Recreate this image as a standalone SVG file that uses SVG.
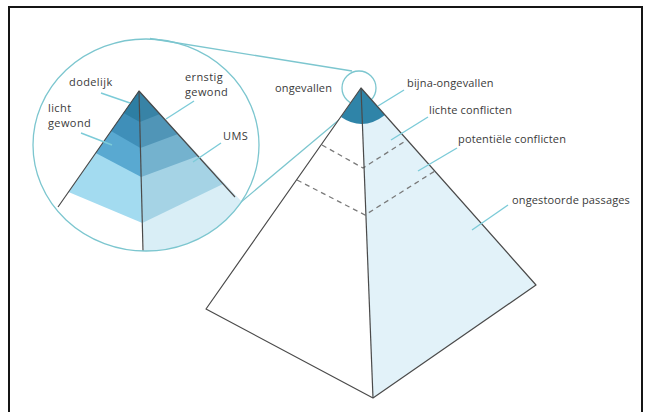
<svg xmlns="http://www.w3.org/2000/svg" width="648" height="412" viewBox="0 0 648 412">
  <style>
    .lbl { font-family: "Open Sans", "Liberation Sans", sans-serif; font-size: 11px; letter-spacing: 0.15px; fill: #3a3a3a; }
    .lbl-s { font-family: "Open Sans", "Liberation Sans", sans-serif; font-size: 11px; letter-spacing: 0.4px; fill: #3a3a3a; }
    .leader { stroke: #7ccbd8; stroke-width: 1.4; fill: none; }
    .loupe { stroke: #7cc6cf; stroke-width: 1.3; fill: none; }
    .edge { stroke: #4a4a4a; stroke-width: 1.2; fill: none; stroke-linejoin: round; }
    .dash { stroke: #7a7a7a; stroke-width: 1.3; fill: none; stroke-dasharray: 5 4; }
  </style>
  <defs>
    <clipPath id="loupeClip">
      <ellipse cx="146" cy="145" rx="113" ry="106"/>
    </clipPath>
  </defs>

  <rect x="0" y="0" width="648" height="412" fill="#ffffff"/>
  <!-- frame -->
  <path d="M9,420 V7 H642 V420" fill="none" stroke="#151515" stroke-width="2"/>

  <!-- magnifier outline and connecting lines -->
  <g id="magnifier">
    <line class="loupe" x1="150" y1="38.5" x2="352" y2="71"/>
    <line class="loupe" x1="203" y1="234" x2="340" y2="119"/>
    <circle class="loupe" cx="359" cy="88" r="17"/>
  </g>

  <!-- main pyramid -->
  <g id="main-pyramid">
    <polygon points="361,88 206,309 373,398" fill="#ffffff"/>
    <polygon points="361,88 373,398 536,285" fill="#e2f2f9"/>
    <path d="M361,88 L341,117 Q363,132 385,115 Z" fill="#2f84a8"/>
    <polyline class="dash" points="322,145 363,168 407,140"/>
    <polyline class="dash" points="297,180 365,215 435,171"/>
    <polygon class="edge" points="361,88 206,309 373,398 536,285"/>
    <line class="edge" x1="361" y1="88" x2="373" y2="398"/>
  </g>

  <!-- enlarged top of the pyramid -->
  <g id="detail-pyramid">
    <g clip-path="url(#loupeClip)">
      <!-- left face, bottom band first -->
      <polygon points="139,91 30,246 144,262" fill="#ffffff"/>
      <polygon points="139,91 68.5,192 142.3,223" fill="#a3dbf0"/>
      <polygon points="139,91 95.7,153 141.2,177" fill="#59a9d1"/>
      <polygon points="139,91 111,131 140.4,148" fill="#3f8fb9"/>
      <polygon points="139,91 123.6,113 139.8,122" fill="#2d7ea3"/>
      <!-- right face -->
      <polygon points="139,91 255,216 144,262" fill="#d9eef6"/>
      <polygon points="139,91 223,184 142.3,223" fill="#a5d3e5"/>
      <polygon points="139,91 198,156 141.2,177" fill="#74b2ce"/>
      <polygon points="139,91 178,134 140.4,148" fill="#5095b7"/>
      <polygon points="139,91 160,114 139.8,122" fill="#3883a6"/>
    </g>
    <polyline class="edge" points="58,207 139,91 235,197"/>
    <line class="edge" x1="139" y1="91" x2="143" y2="251"/>
    <ellipse class="loupe" cx="146" cy="145" rx="113" ry="106"/>
  </g>

  <!-- labels of the enlarged part -->
  <g id="label-dodelijk">
    <line class="leader" x1="101" y1="93" x2="130" y2="103"/>
    <text class="lbl-s" x="69" y="86">dodelijk</text>
  </g>
  <g id="label-ernstig-gewond">
    <line class="leader" x1="194" y1="101" x2="166" y2="119"/>
    <text class="lbl-s" x="185" y="81">ernstig</text>
    <text class="lbl-s" x="185" y="96">gewond</text>
  </g>
  <g id="label-licht-gewond">
    <line class="leader" x1="81" y1="133" x2="112" y2="145"/>
    <text class="lbl-s" x="48" y="112">licht</text>
    <text class="lbl-s" x="48" y="127">gewond</text>
  </g>
  <g id="label-ums">
    <line class="leader" x1="221" y1="143" x2="193" y2="162"/>
    <text class="lbl-s" x="223" y="140">UMS</text>
  </g>

  <!-- labels of the main pyramid -->
  <g id="label-ongevallen">
    <text class="lbl" x="275" y="92">ongevallen</text>
  </g>
  <g id="label-bijna-ongevallen">
    <line class="leader" x1="404" y1="90" x2="378" y2="106"/>
    <text class="lbl" x="407" y="87">bijna-ongevallen</text>
  </g>
  <g id="label-lichte-conflicten">
    <line class="leader" x1="428" y1="117" x2="391" y2="140"/>
    <text class="lbl" x="429" y="114">lichte conflicten</text>
  </g>
  <g id="label-potentiele-conflicten">
    <line class="leader" x1="457" y1="148" x2="418" y2="171"/>
    <text class="lbl" x="458" y="143">potentiële conflicten</text>
  </g>
  <g id="label-ongestoorde-passages">
    <line class="leader" x1="508" y1="205" x2="472" y2="230"/>
    <text class="lbl" x="512" y="204">ongestoorde passages</text>
  </g>
</svg>
